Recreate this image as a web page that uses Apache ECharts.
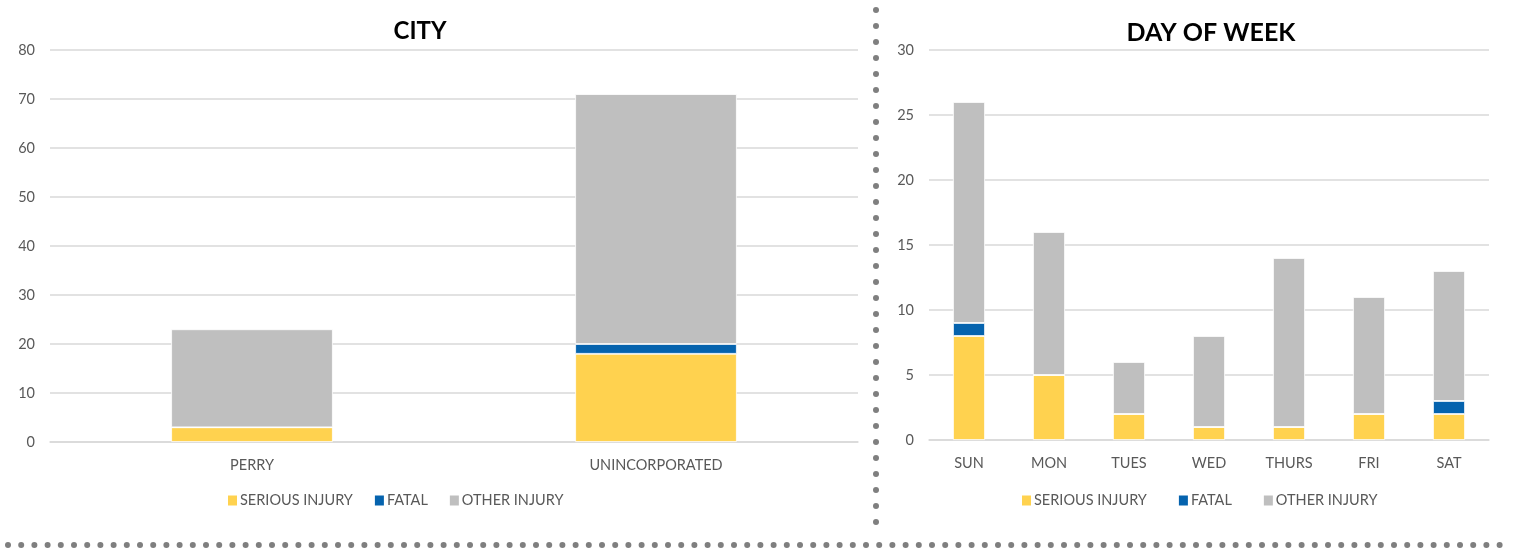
<!DOCTYPE html>
<html><head><meta charset="utf-8">
<script src="https://cdn.jsdelivr.net/npm/echarts@6/dist/echarts.min.js"></script>
<style>html,body{margin:0;padding:0;background:#fff}#c{width:1517px;height:552px}</style>
</head><body><div id="c"></div>
<script>
const cityCategories = ['PERRY', 'UNINCORPORATED'];
const citySerious = [3, 18];
const cityFatal = [0, 2];
const cityOther = [20, 51];

const dayCategories = ['SUN', 'MON', 'TUES', 'WED', 'THURS', 'FRI', 'SAT'];
const daySerious = [8, 5, 2, 1, 1, 2, 2];
const dayFatal = [1, 0, 0, 0, 0, 0, 1];
const dayOther = [17, 11, 4, 7, 13, 9, 10];

const seriesNames = ['SERIOUS INJURY', 'FATAL', 'OTHER INJURY'];
const colors = ['#FFD24F', '#0563AE', '#BFBFBF'];
const FONT = 'Lato, "Open Sans", sans-serif';

const chart = echarts.init(document.getElementById('c'));

const dots = [];
for (let y = 10; y <= 525; y += 16) dots.push({type:'circle', shape:{cx:876, cy:y, r:3}, style:{fill:'#7f7f7f'}, silent:true});
for (let x = 8; x <= 1512; x += 13.2) dots.push({type:'circle', shape:{cx:x, cy:545, r:3}, style:{fill:'#7f7f7f'}, silent:true});

function mk(name, data, xi, stack, ci) {
  return {name, type:'bar', stack, xAxisIndex:xi, yAxisIndex:xi, data, barWidth:'40%',
    itemStyle:{color:colors[ci], borderColor:'#fff', borderWidth:0.8}, emphasis:{disabled:true}};
}
const axisLabel = {color:'#595959', fontSize:14.5, fontFamily:FONT};
const split = {show:true, lineStyle:{color:'#D9D9D9', width:1.5}};
const legendText = {color:'#595959', fontSize:14.5, fontFamily:FONT, padding:[0,0,0,-3]};

chart.setOption({
  animation:false,
  textStyle:{fontFamily:FONT},
  color: colors,
  title:[
    {text:'CITY', left:415, top:14, textAlign:'center', textStyle:{fontSize:24, fontWeight:'bold', color:'#000', fontFamily:FONT}},
    {text:'DAY OF WEEK', left:1206, top:15, textAlign:'center', textStyle:{fontSize:25, fontWeight:'bold', color:'#000', fontFamily:FONT}}
  ],
  legend:[
    {data:seriesNames, left:221, top:488, itemWidth:11, itemHeight:12, itemGap:20, icon:'rect', textStyle:legendText},
    {data:seriesNames, left:1015, top:488, itemWidth:11, itemHeight:12, itemGap:30, icon:'rect', textStyle:legendText}
  ],
  grid:[
    {left:50, top:50, width:808, bottom:110},
    {left:929, top:50, width:560, bottom:112}
  ],
  xAxis:[
    {gridIndex:0, type:'category', data:cityCategories, axisTick:{show:false}, axisLine:{lineStyle:{color:'#D9D9D9', width:1.5}}, axisLabel:{...axisLabel, margin:16}},
    {gridIndex:1, type:'category', data:dayCategories, axisTick:{show:false}, axisLine:{lineStyle:{color:'#D9D9D9', width:1.5}}, axisLabel:{...axisLabel, margin:16}}
  ],
  yAxis:[
    {gridIndex:0, type:'value', min:0, max:80, interval:10, axisLabel:{...axisLabel, margin:15}, splitLine:split, axisLine:{show:false}},
    {gridIndex:1, type:'value', min:0, max:30, interval:5, axisLabel:{...axisLabel, margin:15}, splitLine:split, axisLine:{show:false}}
  ],
  series:[
    mk(seriesNames[0], citySerious, 0, 'a', 0),
    mk(seriesNames[1], cityFatal, 0, 'a', 1),
    mk(seriesNames[2], cityOther, 0, 'a', 2),
    mk(seriesNames[0], daySerious, 1, 'b', 0),
    mk(seriesNames[1], dayFatal, 1, 'b', 1),
    mk(seriesNames[2], dayOther, 1, 'b', 2)
  ],
  graphic: dots
});
</script></body></html>
